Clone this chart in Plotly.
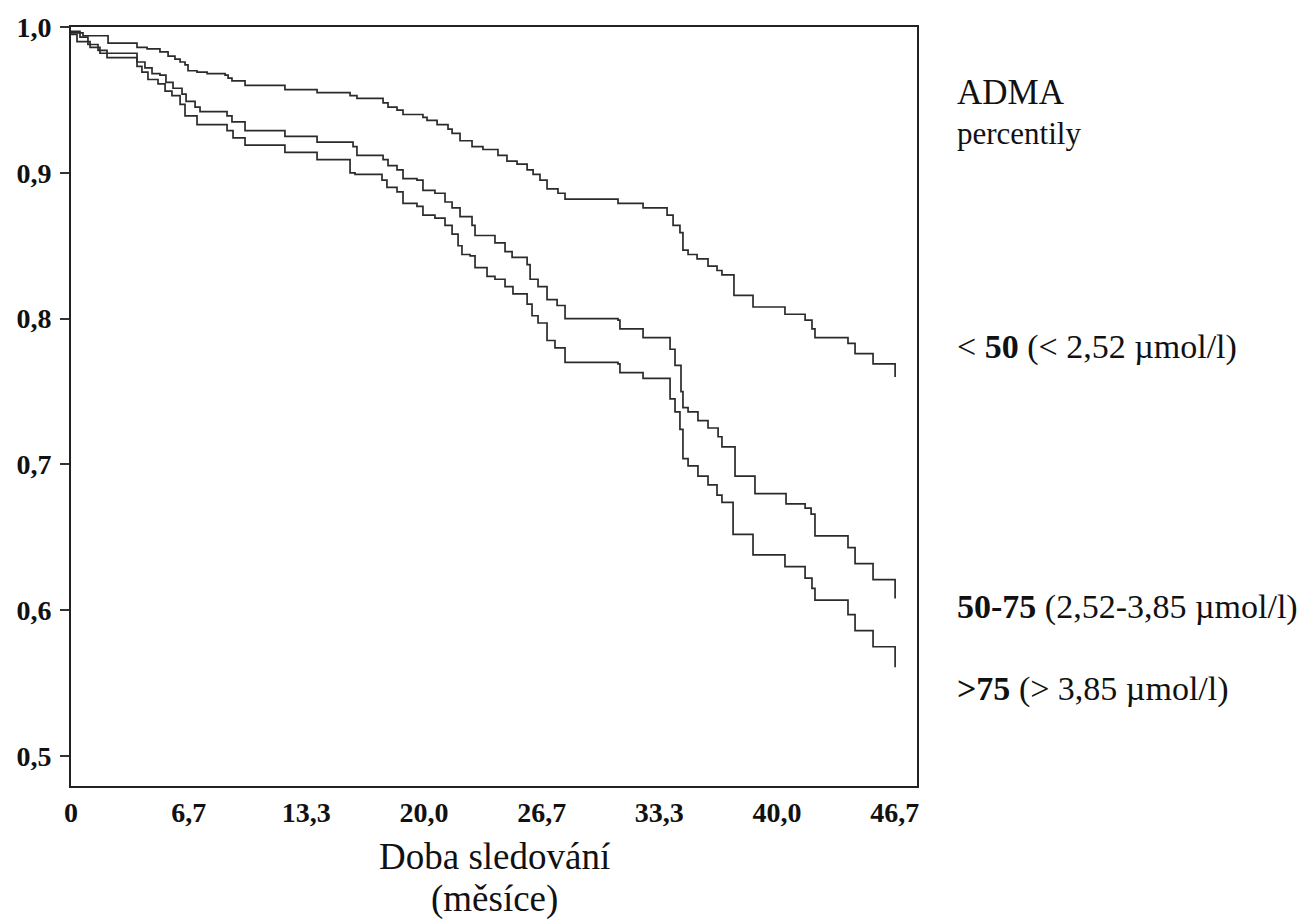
import plotly.graph_objects as go

# Kaplan-Meier curves: drop times (months) and survival level after each drop
u_time = [0, 0.68, 2.10, 3.74, 4.31, 5.04, 5.50, 5.89, 6.18, 6.46, 6.63, 7.14, 7.71, 8.73, 8.90, 9.12,
          9.86, 12.12, 13.94, 15.81, 16.20, 17.68, 17.96, 18.47, 18.81, 19.94, 20.17, 20.74, 21.36,
          21.59, 22.04, 22.72, 23.34, 24.19, 24.70, 25.27, 25.84, 26.18, 26.57, 26.97, 27.59, 27.99,
          30.99, 32.41, 33.77, 34.11, 34.50, 34.67, 34.96, 35.47, 36.09, 36.60, 36.88, 37.56, 38.64,
          40.45, 41.59, 41.98, 42.15, 44.02, 44.42, 45.44, 46.69]
u_surv = [0.996, 0.994, 0.989, 0.986, 0.985, 0.983, 0.980, 0.978, 0.976, 0.974, 0.970, 0.969, 0.968,
          0.967, 0.965, 0.963, 0.960, 0.957, 0.955, 0.953, 0.951, 0.948, 0.945, 0.943, 0.940, 0.938,
          0.936, 0.933, 0.930, 0.927, 0.922, 0.918, 0.916, 0.912, 0.908, 0.906, 0.902, 0.899, 0.895,
          0.889, 0.886, 0.882, 0.879, 0.876, 0.871, 0.864, 0.859, 0.847, 0.844, 0.841, 0.836, 0.833,
          0.830, 0.816, 0.808, 0.803, 0.799, 0.793, 0.787, 0.783, 0.776, 0.769, 0.760]

m_time = [0, 0.51, 0.96, 1.53, 2.04, 3.74, 4.19, 4.59, 5.04, 5.38, 5.78, 6.29, 6.52, 7.03, 7.31, 8.84,
          9.12, 9.86, 12.12, 13.94, 15.98, 16.20, 17.68, 17.96, 18.47, 18.81, 19.60, 19.94, 20.62,
          21.19, 21.59, 22.04, 22.72, 22.89, 24.02, 24.59, 24.99, 25.84, 26.01, 26.46, 26.97, 27.54,
          27.99, 30.99, 31.10, 32.41, 33.94, 34.22, 34.56, 34.67, 34.96, 35.52, 36.09, 36.66, 36.88,
          37.62, 38.75, 40.51, 41.59, 41.93, 42.15, 44.02, 44.42, 45.44, 46.69]
m_surv = [0.997, 0.993, 0.988, 0.984, 0.982, 0.976, 0.972, 0.968, 0.967, 0.962, 0.958, 0.954, 0.949,
          0.945, 0.942, 0.939, 0.935, 0.929, 0.925, 0.921, 0.918, 0.912, 0.909, 0.905, 0.902, 0.896,
          0.895, 0.888, 0.886, 0.880, 0.876, 0.870, 0.864, 0.857, 0.852, 0.846, 0.842, 0.837, 0.827,
          0.822, 0.813, 0.809, 0.800, 0.799, 0.793, 0.787, 0.779, 0.768, 0.750, 0.739, 0.736, 0.730,
          0.725, 0.719, 0.712, 0.692, 0.680, 0.673, 0.670, 0.666, 0.651, 0.643, 0.632, 0.621, 0.608]

b_time = [0, 0.34, 1.08, 1.64, 2.04, 3.74, 4.02, 4.36, 4.93, 5.33, 5.72, 6.18, 6.46, 7.14, 8.84, 9.18,
          9.86, 12.12, 13.94, 15.81, 16.09, 17.62, 17.90, 18.47, 18.81, 19.60, 19.94, 20.62, 21.19,
          21.59, 21.93, 22.15, 22.61, 22.89, 23.57, 24.02, 24.59, 25.04, 25.84, 26.12, 26.46, 26.97,
          27.42, 27.99, 30.99, 31.10, 32.41, 33.94, 34.22, 34.50, 34.67, 34.96, 35.52, 36.09, 36.60,
          36.88, 37.51, 38.64, 40.45, 41.59, 41.98, 42.15, 44.02, 44.42, 45.44, 46.69]
b_surv = [0.995, 0.990, 0.986, 0.982, 0.979, 0.973, 0.969, 0.964, 0.961, 0.956, 0.953, 0.947, 0.939,
          0.933, 0.929, 0.924, 0.919, 0.914, 0.909, 0.900, 0.899, 0.895, 0.890, 0.887, 0.879, 0.877,
          0.871, 0.869, 0.864, 0.858, 0.850, 0.844, 0.843, 0.835, 0.829, 0.827, 0.822, 0.817, 0.810,
          0.802, 0.797, 0.785, 0.780, 0.770, 0.769, 0.763, 0.759, 0.745, 0.736, 0.724, 0.704, 0.699,
          0.692, 0.686, 0.679, 0.674, 0.652, 0.638, 0.630, 0.622, 0.615, 0.607, 0.597, 0.586, 0.575,
          0.561]

x_tick_vals = [0, 20 / 3, 40 / 3, 20, 80 / 3, 100 / 3, 40, 140 / 3]
x_tick_text = ["0", "6,7", "13,3", "20,0", "26,7", "33,3", "40,0", "46,7"]
y_tick_vals = [0.5, 0.6, 0.7, 0.8, 0.9, 1.0]
y_tick_text = ["0,5", "0,6", "0,7", "0,8", "0,9", "1,0"]

group_labels = ["&lt; <b>50</b> (&lt; 2,52 µmol/l)",
                "<b>50-75</b> (2,52-3,85 µmol/l)",
                "<b>&gt;75</b> (&gt; 3,85 µmol/l)"]
key_title = "<span style='font-size:35px'>ADMA</span><br>percentily"

SERIF = "Liberation Serif, Times New Roman, Times, serif"
LINE = "#2b2b2b"

fig = go.Figure()
for t, s, name in [(u_time, u_surv, group_labels[0]),
                   (m_time, m_surv, group_labels[1]),
                   (b_time, b_surv, group_labels[2])]:
    n = min(len(t), len(s))
    fig.add_trace(go.Scatter(x=t[:n], y=s[:n], mode="lines", line_shape="hv",
                             line=dict(color=LINE, width=1.7), name=name, showlegend=False))

fig.update_layout(
    width=1312, height=922,
    margin=dict(l=71, r=395, t=23, b=136),
    paper_bgcolor="white", plot_bgcolor="white",
    font=dict(family=SERIF, color="#111"),
)
fig.update_xaxes(range=[0, 47.93], showgrid=False, zeroline=False,
                 showline=True, linecolor="#222", linewidth=2, mirror=True,
                 tickmode="array", tickvals=x_tick_vals, ticktext=x_tick_text,
                 ticks="", ticklabelstandoff=0,
                 tickfont=dict(family=SERIF, size=28, color="#111", weight="bold"))
fig.update_yaxes(range=[0.4795, 1.0], showgrid=False, zeroline=False,
                 showline=True, linecolor="#222", linewidth=2, mirror=True,
                 tickmode="array", tickvals=y_tick_vals, ticktext=y_tick_text,
                 ticks="outside", ticklen=9, tickwidth=1.5, tickcolor="#333",
                 ticklabelstandoff=3,
                 tickfont=dict(family=SERIF, size=28, color="#111", weight="bold"))

# right-hand key texts
fig.add_annotation(text=key_title, xref="paper", yref="paper", x=1.045, y=0.888,
                   xanchor="left", yanchor="middle", align="left", showarrow=False,
                   font=dict(family=SERIF, size=31, color="#111"))
for txt, yp in [(group_labels[0], 0.579), (group_labels[1], 0.236), (group_labels[2], 0.128)]:
    fig.add_annotation(text=txt, xref="paper", yref="paper", x=1.045, y=yp,
                       xanchor="left", yanchor="middle", showarrow=False,
                       font=dict(family=SERIF, size=34, color="#111"))

# axis title (two lines)
fig.add_annotation(text="Doba sledování", xref="paper", yref="paper", x=0.501, y=-0.093,
                   xanchor="center", yanchor="middle", showarrow=False,
                   font=dict(family=SERIF, size=37, color="#111"))
fig.add_annotation(text="(měsíce)", xref="paper", yref="paper", x=0.501, y=-0.149,
                   xanchor="center", yanchor="middle", showarrow=False,
                   font=dict(family=SERIF, size=37, color="#111"))

fig.write_html("out.html")
